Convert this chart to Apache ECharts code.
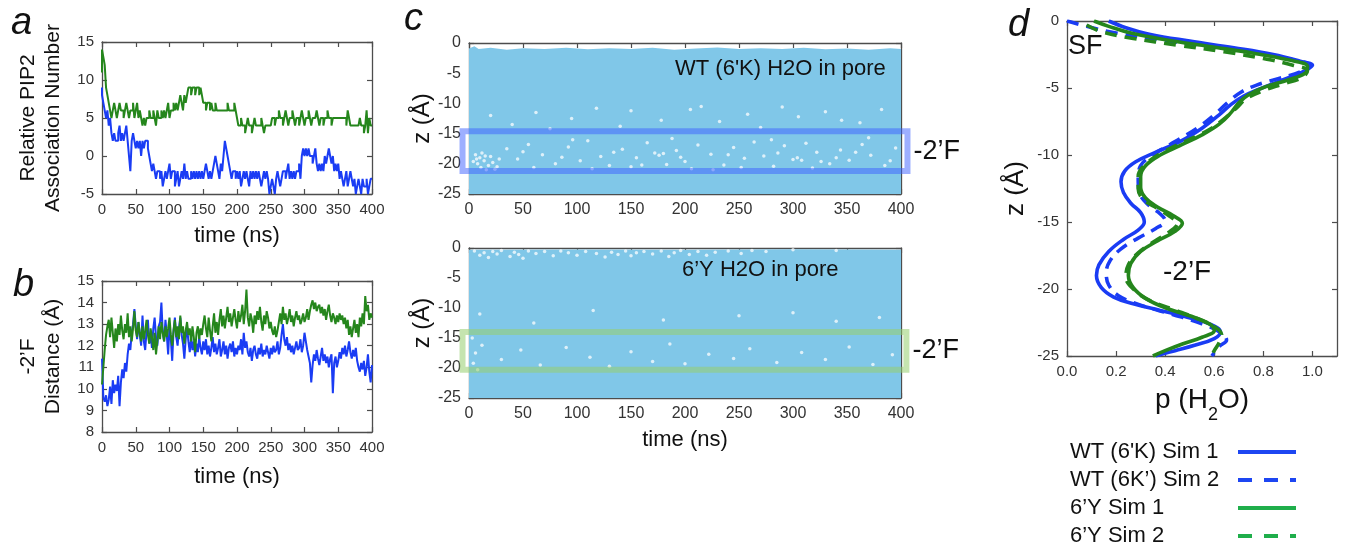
<!DOCTYPE html>
<html>
<head>
<meta charset="utf-8">
<script src="https://cdn.jsdelivr.net/npm/echarts@6.0.0/dist/echarts.min.js"></script>
<style>
html, body { margin: 0; padding: 0; background: #fff; }
#chart { width: 1345px; height: 547px; }
</style>
</head>
<body>
<div id="chart"></div>
<script>
// ---- panel a: relative PIP2 association number, one value every 2 ns (0..400)
const timeStep = 2;
const pip2Y6 = [
  11,14,13,12,9,8,
  7,6,5,6,7,6,5,6,7,6,
  6,5,6,7,6,5,6,6,7,5,
  6,7,5,6,5,4,5,4,5,5,
  6,5,5,6,5,4,6,5,5,6,
  5,6,5,6,7,5,6,6,7,6,
  7,6,7,8,7,6,8,7,8,9,
  9,8,9,9,8,9,9,8,9,8,
  7,7,6,7,7,6,7,6,6,7,
  6,6,6,6,6,6,6,6,7,6,
  6,6,6,7,6,5,4,4,5,4,
  4,3,4,5,4,4,3,4,5,4,
  4,4,4,5,4,3,4,4,4,4,
  4,5,5,4,5,5,6,5,5,4,
  5,6,5,4,5,5,6,5,4,5,
  5,4,5,6,5,4,5,5,6,5,
  4,5,5,5,6,5,4,5,5,4,
  5,5,6,5,5,4,5,5,5,5,
  5,5,5,5,5,5,4,6,5,4,
  4,4,4,4,4,4,5,4,4,3,
  4,6,3,5,4
];
const pip2WT = [
  9,8,7,6,5,6,
  4,5,3,2,3,2,2,3,4,2,
  3,2,3,4,2,0,-2,2,3,2,
  1,2,1,2,0,2,1,2,2,1,
  0,-1,-2,-1,-2,-3,-2,-2,-3,-2,
  -4,-3,-2,-3,-2,-1,-3,-2,-2,-4,
  -3,-2,-4,-3,-2,-3,-1,-3,-2,-3,
  -3,-2,-3,-2,-3,-2,-3,-2,-3,-2,
  -3,-2,-1,-2,-3,-2,-3,-2,-1,0,
  -1,-2,-3,-1,-2,0,2,1,0,-1,
  -2,-3,-2,-2,-3,-2,-3,-2,-4,-3,
  -2,-3,-2,-3,-4,-2,-3,-2,-3,-2,
  -3,-2,-3,-4,-3,-2,-3,-2,-3,-5,
  -4,-3,-4,-5,-3,-2,-3,-4,-3,-2,
  -2,-3,-2,-1,-3,-2,-3,-2,-3,-2,
  -2,-1,-3,0,1,0,1,0,1,0,
  0,-1,0,1,-1,-2,-1,-2,-1,-2,
  0,-1,0,1,0,-1,0,-2,-1,-2,
  -1,-3,-2,-3,-4,-3,-2,-4,-3,-2,
  -3,-4,-3,-5,-4,-3,-4,-5,-3,-4,
  -4,-3,-5,-4,-3
];

// ---- panel b: -2'F distance (Å), one value every 2 ns
const distY6 = [
  10.2,11.0,11.8,12.5,12.9,13.2,
  12.4,13.3,12.6,11.9,12.8,12.2,13.0,12.5,13.4,12.7,
  12.3,13.0,12.6,13.5,12.4,12.9,12.2,12.8,13.6,12.7,
  12.4,13.1,12.6,12.2,12.9,12.3,12.7,13.2,12.5,12.1,
  12.8,12.4,11.8,12.6,11.6,12.2,12.9,12.3,13.1,12.6,
  12.2,12.9,12.4,12.8,13.3,12.5,12.0,12.7,13.2,12.4,
  12.9,12.3,13.4,12.6,12.9,12.1,12.7,13.1,12.5,12.8,
  12.2,12.9,12.4,11.7,12.6,12.9,12.3,12.8,12.5,13.0,
  13.4,12.8,12.4,13.3,12.7,12.2,12.9,13.5,12.6,13.1,
  12.5,13.2,13.7,12.9,13.4,12.8,13.3,13.8,13.1,13.5,
  12.9,13.3,13.7,13.2,12.8,13.6,13.1,13.4,13.9,13.0,
  13.6,14.6,13.3,12.9,13.5,13.2,12.6,13.4,13.0,13.6,
  13.2,13.8,13.1,12.7,13.4,13.0,13.6,13.3,12.8,13.1,
  12.7,12.5,12.9,12.4,12.7,13.1,13.5,13.0,13.8,13.2,
  13.5,13.0,13.3,13.7,13.1,13.4,12.9,13.3,13.6,13.2,
  13.4,13.0,13.2,13.5,13.1,13.3,13.7,13.2,13.6,13.9,
  14.1,13.7,14.0,13.6,13.8,13.9,13.5,13.8,13.4,13.7,
  13.2,13.6,13.9,13.4,13.1,13.5,13.3,13.0,13.4,13.1,
  13.5,13.2,13.4,13.0,13.3,12.8,13.2,12.5,12.9,12.4,
  12.8,13.2,12.6,13.0,12.4,13.3,12.9,13.5,13.0,14.3,
  13.6,13.9,13.2,13.5,13.3
];
const distWT = [
  11.4,9.6,9.4,9.7,9.2,9.5,
  10.1,9.3,10.4,9.8,10.2,9.9,10.6,9.2,10.3,10.9,
  10.5,11.2,10.8,11.6,12.1,11.8,12.6,13.0,13.7,12.9,
  12.3,13.1,12.5,12.0,13.4,12.2,11.8,12.7,13.2,12.1,
  12.6,11.9,12.8,13.3,12.4,12.0,12.9,13.1,14.0,12.6,
  12.2,13.2,12.5,11.6,12.9,12.3,11.3,12.7,13.3,12.4,
  12.0,12.8,13.3,12.5,12.1,11.4,12.3,12.9,12.2,11.7,
  12.4,11.8,12.2,11.5,12.1,11.7,12.4,11.9,11.6,12.2,
  11.8,12.3,11.6,12.0,11.5,11.9,12.4,11.7,12.1,11.6,
  11.9,12.3,11.5,11.8,12.2,11.6,12.0,11.4,11.9,12.1,
  11.7,12.2,11.5,11.9,11.6,12.0,11.8,12.3,11.6,12.6,
  11.9,12.2,11.7,11.5,11.9,11.3,11.8,12.0,11.6,11.4,
  11.9,11.6,12.1,11.5,11.8,11.6,12.0,11.7,11.4,11.9,
  11.6,12.0,11.7,11.8,12.2,11.6,11.9,12.5,13.0,12.3,
  12.0,12.4,11.8,12.1,11.7,12.0,11.6,11.9,12.2,11.8,
  11.9,12.3,11.7,12.0,12.6,12.2,11.8,11.5,11.2,10.3,
  11.1,11.6,11.3,11.8,11.4,11.1,11.5,11.9,11.3,11.6,
  11.2,11.5,11.0,11.4,11.6,9.8,11.2,11.5,11.0,11.3,
  11.7,11.4,11.9,11.6,12.0,11.5,11.8,12.2,11.7,11.4,
  11.8,11.5,11.9,11.3,11.0,10.8,11.2,10.9,11.3,10.6,
  11.0,11.6,10.8,10.3,11.1
];

// ---- panel c: water in pore, upper edge of the water column and empty spots [t, z]
const waterTopWT = [[0,-0.9],[5,-0.55],[9,-1.0],[20,-0.8],[35,-1.1],[50,-0.85],[70,-1.0],[90,-0.8],
  [110,-1.05],[130,-0.85],[150,-1.0],[170,-0.8],[190,-1.1],[210,-0.9],[230,-0.75],[250,-1.0],
  [270,-0.85],[290,-1.0],[310,-0.8],[330,-1.05],[350,-0.9],[370,-1.1],[390,-0.85],[400,-1.0]];
const waterTopY6 = [[0,-0.3],[100,-0.25],[200,-0.3],[300,-0.2],[400,-0.3]];
const gapsWT = [
  [62,-11.5],[95,-12.5],[118,-10.8],[150,-11.2],[178,-12.8],[205,-11],[232,-13],[258,-11.8],
  [290,-10.6],[305,-12.2],[330,-11.4],[362,-13.2],[382,-11],[40,-13.5],[140,-13.8],[270,-14],
  [20,-12],[75,-14.2],[215,-10.5],[345,-12.8],
  [6,-18.5],[10,-19],[14,-19.5],[8,-20],[18,-20.3],[22,-19.8],[12,-18.2],[26,-20.5],[16,-21],
  [4,-19.6],[20,-18.8],[28,-19.2],[7,-19.2],[11,-20.6],[15,-18.7],[24,-20.9],
  [35,-17.5],[45,-19.2],[55,-16.8],[68,-18.5],[80,-20],[92,-17.2],[103,-19.5],[110,-16.2],
  [122,-18.8],[130,-20.3],[142,-17.6],[155,-19],[165,-16.5],[172,-18.2],[176,-18.6],[180,-18.3],
  [183,-20.1],[192,-17.8],[200,-19.6],[212,-16.9],[224,-18.4],[236,-20.2],[245,-17.3],[255,-19.1],
  [264,-16.4],[273,-18.7],[282,-20.4],[292,-17],[300,-19.3],[304,-19.0],[308,-19.4],[312,-16.6],
  [322,-18.1],[334,-20],[344,-17.7],[352,-19.4],[364,-16.8],[372,-18.6],[385,-20.3],[395,-17.4],
  [60,-20.6],[150,-20.5],[226,-21],[318,-20.7],[96,-16],[188,-15.8],[280,-16],[370,-15.7],
  [50,-18],[240,-18.5],[340,-19],[86,-18.9],[134,-18.1],[160,-20.2],[196,-18.9],[252,-20.6],
  [286,-18.2],[326,-19.6],[358,-18.1],[390,-19.5],[114,-20.8],[206,-20.8]
];
const gapsY6 = [
  [5,-0.5],[10,-1.2],[14,-0.8],[18,-1.6],[22,-0.6],[26,-1],[30,-0.4],[38,-1.4],[42,-0.7],
  [46,-1.1],[50,-1.7],[55,-0.5],[62,-0.9],[70,-0.6],[78,-1.3],[85,-0.5],[92,-0.8],[100,-1.2],
  [108,-0.6],[118,-0.9],[126,-1.5],[132,-0.7],[138,-1.1],[145,-0.5],[150,-1.3],[155,-0.8],
  [162,-0.6],[170,-1],[178,-0.5],[185,-1.4],[190,-0.8],[196,-0.4],[204,-1.1],[212,-0.6],
  [220,-1.2],[228,-0.7],[240,-0.5],[252,-0.9],[262,-0.4],[275,-0.6],[300,-0.3],[340,-0.4],
  [3,-15],[6,-17.5],[4,-19.2],[8,-20.3],[12,-16.2],[30,-18.6],[48,-17],[66,-19.5],[90,-16.6],
  [112,-18.2],[130,-19.7],[150,-17.3],[170,-18.9],[186,-16],[200,-19.3],[222,-17.7],[245,-18.4],
  [260,-16.8],[285,-19.1],[308,-17.4],[330,-18.6],[352,-16.5],[374,-19.4],[392,-17.8],
  [10,-11],[60,-12.5],[115,-10.4],[180,-12],[250,-11.3],[300,-10.8],[340,-12.2],[380,-11.6]
];
// -2'F region boxes: [tStart, tEnd, zTop, zBottom]
const boxWT = [[-6, 406, -14.6, -21.2]];
const boxY6 = [[-6, 405, -14.0, -20.3]];

// ---- panel d: water probability profiles [p, z]
const profWT1 = [[0.17,0],[0.24,-0.5],[0.34,-1],[0.5,-1.5],[0.68,-2],[0.84,-2.5],[0.95,-3],[1.0,-3.3],
  [0.97,-3.7],[0.92,-4.1],[0.85,-4.6],[0.78,-5.1],[0.72,-5.6],[0.67,-6.2],[0.62,-7],[0.55,-8],
  [0.46,-9],[0.36,-9.8],[0.28,-10.5],[0.235,-11.2],[0.22,-12],[0.23,-12.8],[0.26,-13.6],[0.3,-14.3],
  [0.315,-15],[0.29,-15.6],[0.23,-16.3],[0.17,-17.2],[0.13,-18.2],[0.12,-19],[0.14,-19.9],[0.19,-20.6],
  [0.27,-21.1],[0.38,-21.6],[0.49,-22.1],[0.58,-22.6],[0.625,-23.2],[0.6,-23.7],[0.52,-24.2],
  [0.44,-24.6],[0.36,-25]];
const profWT2 = [[0.0,0],[0.08,-0.4],[0.2,-0.9],[0.38,-1.4],[0.58,-1.9],[0.78,-2.4],[0.92,-2.9],
  [0.99,-3.3],[0.95,-3.8],[0.86,-4.3],[0.77,-4.8],[0.71,-5.3],[0.66,-6],[0.6,-7],[0.53,-8],[0.44,-9],
  [0.35,-10],[0.3,-10.8],[0.29,-11.8],[0.295,-12.8],[0.33,-13.7],[0.38,-14.4],[0.4,-14.9],[0.36,-15.5],
  [0.29,-16.2],[0.22,-17],[0.175,-17.9],[0.16,-18.8],[0.17,-19.7],[0.21,-20.5],[0.3,-21.2],
  [0.43,-21.9],[0.55,-22.6],[0.63,-23.3],[0.65,-23.8],[0.62,-24.3],[0.59,-25]];
const profY61 = [[0.11,0],[0.17,-0.4],[0.26,-0.9],[0.4,-1.4],[0.58,-1.9],[0.76,-2.4],[0.9,-2.9],
  [0.98,-3.4],[0.97,-3.9],[0.9,-4.4],[0.81,-4.9],[0.74,-5.5],[0.7,-6.1],[0.67,-6.8],[0.62,-7.7],
  [0.55,-8.5],[0.46,-9.3],[0.38,-10],[0.32,-10.8],[0.3,-11.6],[0.3,-12.4],[0.32,-13.2],[0.37,-13.9],
  [0.43,-14.5],[0.47,-15.1],[0.44,-15.7],[0.37,-16.4],[0.3,-17.2],[0.26,-18.1],[0.25,-19],
  [0.27,-19.9],[0.32,-20.7],[0.4,-21.4],[0.5,-22],[0.58,-22.6],[0.6,-23.1],[0.55,-23.6],
  [0.47,-24.1],[0.4,-24.6],[0.35,-25]];
const profY62 = [[0.08,-0.3],[0.14,-0.8],[0.27,-1.3],[0.45,-1.8],[0.64,-2.3],[0.8,-2.8],[0.92,-3.3],
  [0.98,-3.7],[0.96,-4.2],[0.88,-4.7],[0.8,-5.2],[0.73,-5.8],[0.69,-6.5],[0.64,-7.3],[0.58,-8.1],
  [0.48,-9],[0.39,-9.8],[0.32,-10.7],[0.29,-11.6],[0.29,-12.5],[0.31,-13.3],[0.37,-14],[0.42,-14.6],
  [0.45,-15.1],[0.42,-15.7],[0.36,-16.4],[0.29,-17.3],[0.25,-18.2],[0.24,-19.1],[0.27,-20],
  [0.33,-20.8],[0.43,-21.5],[0.53,-22.2],[0.6,-22.8],[0.63,-23.4],[0.62,-24],[0.6,-24.6],[0.59,-25]];
const legendNames = ["WT (6'K) Sim 1", 'WT (6K’) Sim 2', '6’Y Sim 1', '6’Y Sim 2'];

const FONT = '"Liberation Sans", Arial, Helvetica, sans-serif';
const BLUE = '#1a3cf4';
const GREEN = '#25861c';
const AX = '#4d4d4d';

const chart = echarts.init(document.getElementById('chart'));
const withTime = vals => vals.map((v, i) => [i * timeStep, v]);

// every panel is a closed box: labelled bottom/left axes plus bare top/right axes
function boxAxes(grid, range, label, name) {
  const base = {
    gridIndex: grid, type: 'value', min: range[0], max: range[1], interval: range[2],
    axisLine: { show: true, onZero: false, lineStyle: { color: AX, width: 1.3 } },
    axisTick: { show: true, inside: true, length: 5, lineStyle: { color: AX, width: 1.2 } },
    splitLine: { show: false }
  };
  const main = Object.assign({}, base, {
    axisLabel: Object.assign({ color: '#333', fontSize: 15, fontFamily: FONT, margin: 8 }, label || {})
  }, name || {});
  const other = Object.assign({}, base, { axisLabel: { show: false } });
  return [main, other];
}
function xPair(grid, range, label, name) {
  const [a, b] = boxAxes(grid, range, label, name);
  a.position = 'bottom'; b.position = 'top';
  return [a, b];
}
function yPair(grid, range, label, name) {
  const [a, b] = boxAxes(grid, range, label, name);
  a.position = 'left'; b.position = 'right';
  return [a, b];
}
const nameStyle = (size, extra) => Object.assign({ color: '#111', fontSize: size, fontFamily: FONT }, extra || {});
const timeName = gap => ({ name: 'time (ns)', nameLocation: 'middle', nameGap: gap, nameTextStyle: nameStyle(22) });

function boxItem(params, api) {
  const p0 = api.coord([api.value(0), api.value(2)]);
  const p1 = api.coord([api.value(1), api.value(3)]);
  return {
    type: 'group',
    children: [
      { type: 'rect', shape: { x: p0[0], y: p0[1], width: p1[0] - p0[0], height: p1[1] - p0[1] },
        style: { fill: 'none', stroke: api.visual('color'), lineWidth: 6 } },
      { type: 'text', x: p1[0] + 6, y: (p0[1] + p1[1]) / 2,
        style: { text: '-2’F', fontSize: 27, fontFamily: FONT, fill: '#111', verticalAlign: 'middle' } }
    ]
  };
}

const xAxis = [].concat(
  xPair(0, [0, 400, 50], null, timeName(31)),
  xPair(1, [0, 400, 50], null, timeName(34)),
  xPair(2, [0, 400, 50], { fontSize: 16 }),
  xPair(3, [0, 400, 50], { fontSize: 16 }, timeName(31)),
  xPair(4, [0, 1.1, 0.2], { formatter: v => v.toFixed(1), showMaxLabel: false },
    { name: 'p (H{s|2}O)', nameLocation: 'middle', nameGap: 30,
      nameTextStyle: nameStyle(28, { rich: { s: { fontSize: 18, fontFamily: FONT, color: '#111', verticalAlign: 'bottom', padding: [0, 0, -10, 0] } } }) })
);
const yAxis = [].concat(
  yPair(0, [-5, 15, 5], null, { name: 'Relative PIP2\nAssociation Number', nameLocation: 'middle', nameGap: 36,
    nameTextStyle: nameStyle(21, { lineHeight: 25 }) }),
  yPair(1, [8, 15, 1], null, { name: '-2’F\nDistance (Å)', nameLocation: 'middle', nameGap: 36,
    nameTextStyle: nameStyle(21, { lineHeight: 25 }) }),
  yPair(2, [-25, 0, 5], { fontSize: 16 }, { name: 'z (Å)', nameLocation: 'middle', nameGap: 34, nameTextStyle: nameStyle(24) }),
  yPair(3, [-25, 0, 5], { fontSize: 16 }, { name: 'z (Å)', nameLocation: 'middle', nameGap: 34, nameTextStyle: nameStyle(24) }),
  yPair(4, [-25, 0, 5], null, { name: 'z (Å)', nameLocation: 'middle', nameGap: 38, nameTextStyle: nameStyle(26) })
);

const line = (name, grid, data, color, extra) => Object.assign({
  name, type: 'line', xAxisIndex: grid * 2, yAxisIndex: grid * 2, data,
  symbol: 'none', showSymbol: false, lineStyle: { color, width: 2 }, itemStyle: { color }, animation: false
}, extra || {});
const water = (grid, data) => ({
  type: 'line', xAxisIndex: grid * 2, yAxisIndex: grid * 2, data, symbol: 'none', z: 1,
  lineStyle: { width: 0 }, areaStyle: { origin: 'start', color: '#80c7e8', opacity: 1 }, animation: false
});
const gaps = (grid, data) => ({
  type: 'scatter', xAxisIndex: grid * 2, yAxisIndex: grid * 2, data, symbolSize: 3.5, z: 2,
  itemStyle: { color: 'rgba(255,255,255,0.92)' }, animation: false
});
const box = (grid, data, color) => ({
  type: 'custom', xAxisIndex: grid * 2, yAxisIndex: grid * 2, data, renderItem: boxItem, clip: false, z: 3,
  encode: { x: [0, 1], y: [2, 3] }, itemStyle: { color }, animation: false
});
const profile = (name, data, color, dashed) => line(name, 4, data, color, {
  smooth: 0.4, lineStyle: { color, width: 3.6, type: dashed ? [12, 8] : 'solid' }
});
const legendItem = (name, color, dashed) => ({
  name, itemStyle: { opacity: 0 },
  lineStyle: { color, width: 4, type: dashed ? [14, 12] : 'solid' }
});
const label = (text, x, y, size, extra) => ({
  type: 'text', left: x, top: y, z: 100,
  style: Object.assign({ text, fontSize: size, fontFamily: FONT, fill: '#111' }, extra || {})
});

chart.setOption({
  backgroundColor: '#fff',
  animation: false,
  textStyle: { fontFamily: FONT },
  grid: [
    { left: 102, top: 42, width: 270, height: 152 },
    { left: 102, top: 281, width: 270, height: 151 },
    { left: 469, top: 43, width: 432, height: 151 },
    { left: 469, top: 248, width: 432, height: 150 },
    { left: 1067, top: 21, width: 270, height: 335 }
  ],
  xAxis, yAxis,
  legend: {
    orient: 'vertical', left: 1070, top: 441, height: 106, padding: 0, align: 'right',
    itemWidth: 58, itemHeight: 14, itemGap: 6,
    formatter: n => '{n|' + n + '}',
    textStyle: { rich: { n: { width: 163, align: 'left', fontSize: 22, lineHeight: 21, color: '#111', fontFamily: FONT } } },
    data: [
      legendItem(legendNames[0], '#1d46f2', false),
      legendItem(legendNames[1], '#1d46f2', true),
      legendItem(legendNames[2], '#1fae4b', false),
      legendItem(legendNames[3], '#1fae4b', true)
    ]
  },
  graphic: [
    label('a', 11, 4, 38, { fontStyle: 'italic' }),
    label('b', 13, 266, 38, { fontStyle: 'italic' }),
    label('c', 404, 0, 38, { fontStyle: 'italic' }),
    label('d', 1008, 6, 38, { fontStyle: 'italic' }),
    label("WT (6'K) H2O in pore", 675, 58, 22),
    label('6’Y H2O in pore', 682, 259, 22),
    label('SF', 1068, 33, 27),
    label('-2’F', 1163, 258, 28)
  ],
  series: [
    line('pip2 6Y', 0, withTime(pip2Y6), GREEN, { step: 'start' }),
    line('pip2 WT', 0, withTime(pip2WT), BLUE, { step: 'start' }),
    line('dist WT', 1, withTime(distWT), BLUE),
    line('dist 6Y', 1, withTime(distY6), GREEN),
    water(2, waterTopWT), gaps(2, gapsWT), box(2, boxWT, 'rgba(60,95,255,0.5)'),
    water(3, waterTopY6), gaps(3, gapsY6), box(3, boxY6, 'rgba(150,205,110,0.55)'),
    profile(legendNames[0], profWT1, BLUE, false),
    profile(legendNames[1], profWT2, BLUE, true),
    profile(legendNames[2], profY61, GREEN, false),
    profile(legendNames[3], profY62, GREEN, true)
  ]
});
</script>
</body>
</html>
